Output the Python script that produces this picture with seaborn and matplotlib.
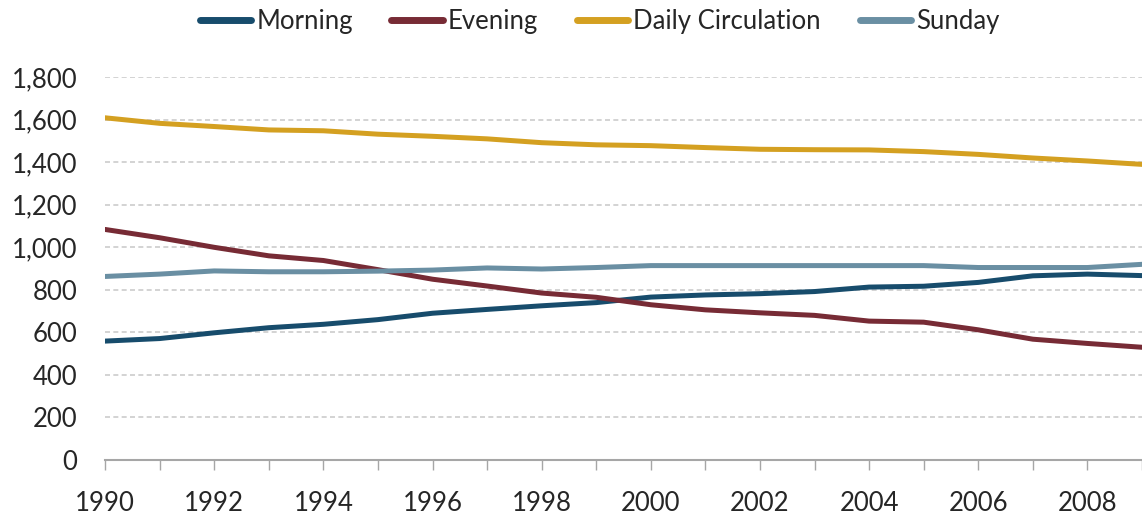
import pandas as pd
import matplotlib
matplotlib.use("Agg")
import matplotlib.pyplot as plt
import seaborn as sns

years = list(range(1990, 2010))
morning = [559, 571, 598, 622, 638, 660, 690, 708, 725, 740,
           766, 776, 782, 792, 813, 817, 835, 866, 874, 867]
evening = [1084, 1045, 1000, 960, 938, 895, 850, 818, 785, 765,
           730, 706, 692, 680, 653, 648, 612, 568, 548, 530]
daily = [1609, 1583, 1568, 1552, 1548, 1532, 1522, 1510, 1492, 1482,
         1478, 1469, 1461, 1459, 1458, 1450, 1437, 1420, 1406, 1390]
sunday = [863, 874, 889, 885, 885, 888, 893, 903, 898, 905,
          914, 914, 914, 914, 914, 914, 905, 905, 905, 920]

series_names = ["Morning", "Evening", "Daily Circulation", "Sunday"]
colors = ["#174C6C", "#772B35", "#D4A021", "#6A8FA3"]
x_labels = list(range(1990, 2010, 2))

df = pd.DataFrame({"year": years, "Morning": morning, "Evening": evening,
                   "Daily Circulation": daily, "Sunday": sunday})
long_df = df.melt(id_vars="year", var_name="series", value_name="count")

sns.set_theme(style="white")
plt.rcParams['font.family'] = ['Lato', 'DejaVu Sans']

fig = plt.figure(figsize=(11.42, 5.18), dpi=100)
ax = fig.add_axes([0.092, 0.112, 0.908, 0.739])

sns.lineplot(data=long_df, x="year", y="count", hue="series",
             hue_order=series_names, palette=colors, linewidth=3.6,
             ax=ax, legend=False)

ax.set_xlim(1990, 2009)
ax.set_ylim(0, 1800)
ax.set_yticks(range(0, 2000, 200))
ax.set_yticklabels([f"{v:,}" for v in range(0, 2000, 200)])
ax.set_xticks(years)
ax.set_xticklabels([str(y) if y in x_labels else "" for y in years])
ax.set_xlabel("")
ax.set_ylabel("")

ax.yaxis.grid(True, linestyle=(0, (3, 2)), color="#CCCCCC", linewidth=1.2)
ax.set_axisbelow(True)
for side in ["top", "right", "left"]:
    ax.spines[side].set_visible(False)
ax.spines["bottom"].set_color("#A6A6A6")
ax.spines["bottom"].set_linewidth(1.5)
ax.tick_params(axis="x", direction="out", length=7, width=1, color="#A6A6A6",
               labelsize=18.5, pad=15, bottom=True)
ax.tick_params(axis="y", length=0, labelsize=18.5, pad=20)

handles = [plt.Line2D([], [], color=c, linewidth=5, solid_capstyle="round")
           for c in colors]
fig.legend(handles, series_names, loc="center", bbox_to_anchor=(0.525, 0.958),
           ncol=4, frameon=False, fontsize=18.5, handlelength=2.0,
           handletextpad=0.2, columnspacing=1.5)

fig.savefig("out.png", dpi=100)
